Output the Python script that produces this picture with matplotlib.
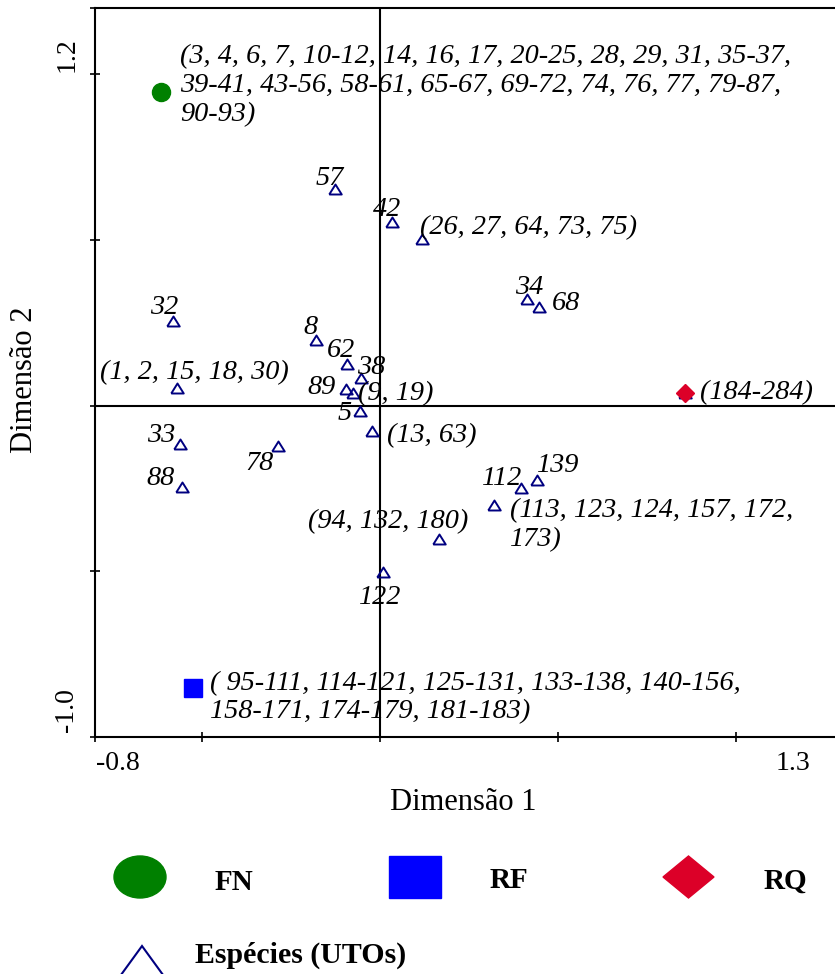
import matplotlib.pyplot as plt
from matplotlib.patches import Ellipse, Rectangle, Polygon

plt.rcParams['font.family'] = ['Liberation Serif', 'DejaVu Serif']

W, H = 835, 974

# environment centroids
env_names = ['FN', 'RF', 'RQ']
env_x = [-0.615, -0.525, 0.857]
env_y = [0.947, -0.851, 0.039]
env_colors = ['#008000', '#0000ff', '#dc0028']
env_markers = ['o', 's', 'D']
env_sizes = [13, 13, 9.5]

fn_text = ("(3, 4, 6, 7, 10-12, 14, 16, 17, 20-25, 28, 29, 31, 35-37,\n"
           "39-41, 43-56, 58-61, 65-67, 69-72, 74, 76, 77, 79-87,\n"
           "90-93)")
rf_text = ("( 95-111, 114-121, 125-131, 133-138, 140-156,\n"
           "158-171, 174-179, 181-183)")
env_texts = [fn_text, rf_text, None]

# species (UTOs) coordinates
sp_labels = ['57', '42', '(26, 27, 64, 73, 75)', '34', '68', '32', '8', '62',
             '38', '89', '(9, 19)', '5', '(13, 63)', '(1, 2, 15, 18, 30)',
             '33', '88', '78', '112', '139',
             '(113, 123, 124, 157, 172,\n173)', '(94, 132, 180)', '122',
             '(184-284)']
sp_x = [-0.126, 0.034, 0.118, 0.413, 0.447, -0.581, -0.180, -0.093,
        -0.053, -0.096, -0.076, -0.056, -0.022, -0.570,
        -0.562, -0.556, -0.287, 0.396, 0.441,
        0.320, 0.166, 0.008,
        0.857]
sp_y = [0.655, 0.555, 0.504, 0.323, 0.299, 0.256, 0.199, 0.127,
        0.084, 0.051, 0.039, -0.015, -0.078, 0.054,
        -0.115, -0.247, -0.121, -0.250, -0.223,
        -0.299, -0.401, -0.501,
        0.039]

# label placement (pixel offsets from the point)
sp_dx = [-5, -5, -2, 2, 13, -9, -5, -6, 10, -24, 5, -15, 15, 17,
         -19, -21, -18, -19, 21, 16, -51, -3, 15]
sp_dy = [10, 12, 11, 11, 3, 13, 12, 13, 10, 1, -1, -3, -4, 15,
         8, 9, -18, 10, 14, -20, 17, -26, 0]
sp_ha = ['center', 'center', 'left', 'center', 'left', 'center', 'center',
         'center', 'center', 'center', 'left', 'center', 'left', 'center',
         'center', 'center', 'center', 'center', 'center', 'left', 'center',
         'center', 'left']
env_dx = [19, 17, 0]
env_dy = [6, -10, 0]

navy = '#000080'
tri = [(-1, -0.8), (1, -0.8), (0, 0.8), (-1, -0.8)]
label_size = 20.3


def fx(px):
    return px / W


def fy(py):
    return 1 - py / H


fig = plt.figure(figsize=(W / 100, H / 100), dpi=100)
ax = fig.add_axes([fx(95), fy(737), (842.8 - 95) / W, (737 - 8) / H])
ax.set_xlim(-0.8, 1.3)
ax.set_ylim(-1.0, 1.2)

for side in ['left', 'bottom', 'top']:
    ax.spines[side].set_linewidth(1.5)
ax.spines['right'].set_visible(False)
ax.set_xticks([-0.8, -0.5, 0, 0.5, 1.0])
ax.set_yticks([-1.0, -0.5, 0, 0.5, 1.0, 1.2])
ax.tick_params(direction='inout', length=7, width=1.2,
               labelbottom=False, labelleft=False)

ax.axhline(0, color='black', lw=1.5, zorder=1)
ax.axvline(0, color='black', lw=1.5, zorder=1)

ax.plot(sp_x, sp_y, ls='none', marker=tri, ms=9, mew=1.4,
        mec=navy, mfc='none', zorder=3)

for i in range(len(env_names)):
    ax.plot(env_x[i], env_y[i], ls='none', marker=env_markers[i],
            ms=env_sizes[i], color=env_colors[i], zorder=4)

for i, lab in enumerate(sp_labels):
    ax.annotate(lab, (sp_x[i], sp_y[i]), xytext=(sp_dx[i], sp_dy[i]),
                textcoords='offset pixels', ha=sp_ha[i], va='center',
                fontsize=label_size, style='italic', zorder=5)

for i, lab in enumerate(env_texts):
    if lab:
        ax.annotate(lab, (env_x[i], env_y[i]), xytext=(env_dx[i], env_dy[i]),
                    textcoords='offset pixels', ha='left', va='center',
                    fontsize=label_size, style='italic', linespacing=1.2,
                    zorder=5)

# axis end values
fig.text(fx(67), fy(55), '1.2', rotation=90, ha='center', va='center', fontsize=20)
fig.text(fx(67), fy(710), '-1.0', rotation=90, ha='center', va='center', fontsize=20)
fig.text(fx(118), fy(763), '-0.8', ha='center', va='center', fontsize=20)
fig.text(fx(793), fy(763), '1.3', ha='center', va='center', fontsize=20)

fig.text(fx(463), fy(803), 'Dimensão 1', ha='center', va='center', fontsize=22)
fig.text(fx(25), fy(380), 'Dimensão 2', rotation=90, ha='center', va='center',
         fontsize=22)

# legend drawn in pixel space below the plot
lg = fig.add_axes([0, 0, 1, 1])
lg.set_xlim(0, W)
lg.set_ylim(H, 0)
lg.axis('off')
lg.add_patch(Ellipse((140, 877), 52, 42, color=env_colors[0]))
lg.add_patch(Rectangle((389, 856), 52, 42, color=env_colors[1]))
lg.add_patch(Polygon([(663, 877), (688.5, 856), (714, 877), (688.5, 898)],
                     closed=True, color=env_colors[2]))
lg.add_patch(Polygon([(110, 990), (142, 946), (174, 990)], closed=False,
                     fill=False, edgecolor=navy, lw=1.5))
lg.text(215, 890, env_names[0], fontsize=21, weight='bold', va='baseline')
lg.text(490, 888, env_names[1], fontsize=21, weight='bold', va='baseline')
lg.text(764, 889, env_names[2], fontsize=21, weight='bold', va='baseline')
lg.text(195, 963, 'Espécies (UTOs)', fontsize=21.5, weight='bold', va='baseline')

fig.savefig('out.png', dpi=100)
